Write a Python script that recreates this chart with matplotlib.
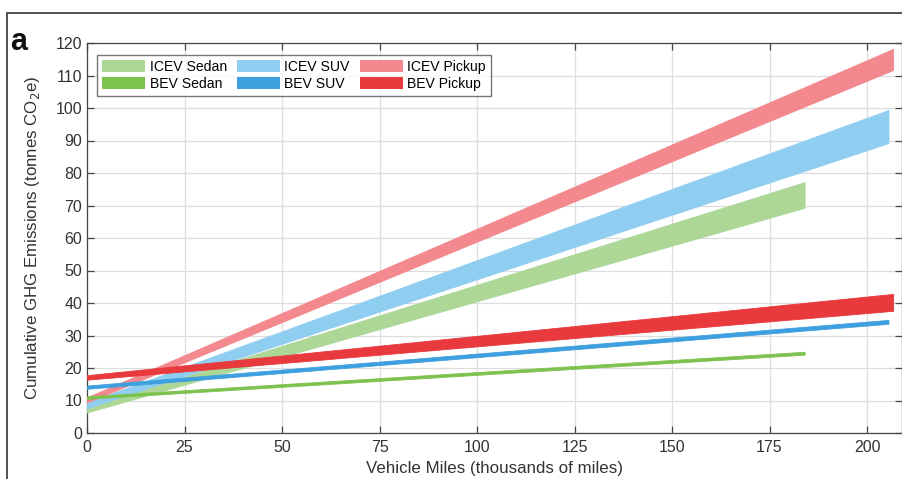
import matplotlib
matplotlib.use("Agg")
import matplotlib.pyplot as plt
from matplotlib.patches import Patch, Rectangle

plt.rcParams['font.family'] = ['Liberation Sans', 'DejaVu Sans']

labels = ["ICEV Sedan", "BEV Sedan", "ICEV SUV", "BEV SUV", "ICEV Pickup", "BEV Pickup"]
x_end = [184, 184, 205.5, 205.5, 206.7, 206.7]
start_low = [6.3, 10.5, 7.6, 13.6, 9.4, 16.4]
start_high = [8.0, 11.3, 9.4, 14.6, 11.0, 17.8]
end_low = [69.3, 24.1, 89.2, 33.6, 111.7, 37.6]
end_high = [77.2, 25.0, 99.4, 34.8, 118.2, 42.8]
colors = ["#acd796", "#7dc24f", "#8fcdf1", "#3e9fdf", "#f3898e", "#e8393d"]

x_ticks = [0, 25, 50, 75, 100, 125, 150, 175, 200]
y_ticks = [0, 10, 20, 30, 40, 50, 60, 70, 80, 90, 100, 110, 120]

fig = plt.figure(figsize=(9.03, 4.79), dpi=100)
W, H = 903, 479
ax = fig.add_axes([87 / W, 1 - 433 / H, (902.5 - 87) / W, (433 - 43) / H])

order = [0, 2, 4, 1, 3, 5]
for i in order:
    ax.fill_between([0, x_end[i]], [start_low[i], end_low[i]], [start_high[i], end_high[i]],
                    color=colors[i], linewidth=0.6, edgecolor=colors[i], zorder=3)

ax.set_xlim(0, 209.1)
ax.set_ylim(0, 120)
ax.set_xticks(x_ticks)
ax.set_yticks(y_ticks)
ax.grid(True, color="#dddddd", linewidth=0.9, zorder=0)
ax.set_axisbelow(True)
ax.tick_params(direction="in", top=True, right=True, length=5, width=0.9,
               colors="#444444", labelsize=11.5, labelcolor="#333333")
ax.tick_params(axis='x', pad=5)
for s in ax.spines.values():
    s.set_color("#444444")
    s.set_linewidth(0.9)

ax.set_xlabel("Vehicle Miles (thousands of miles)", fontsize=12.2, color="#333333", labelpad=4)
ax.set_ylabel("Cumulative GHG Emissions (tonnes CO$_2$e)", fontsize=12.2, color="#333333",
              labelpad=10)

handles = [Patch(facecolor=colors[i], edgecolor='none') for i in range(6)]
leg = ax.legend(handles, labels, ncol=3, loc="upper left", bbox_to_anchor=(0.0123, 0.969),
                fontsize=10.1, frameon=True, fancybox=False, edgecolor="#555555",
                handlelength=3.1, handleheight=0.95, handletextpad=0.3, columnspacing=0.7,
                labelspacing=0.2, borderpad=0.35, borderaxespad=0.0)
leg.get_frame().set_linewidth(1.0)
leg.set_zorder(10)

fig.text(10 / W, 1 - 42 / H, "a", fontsize=22, fontweight="bold", color="#111111", va="center")

fig.add_artist(Rectangle((7 / W, -0.05), 1.1, 1 - 13 / H + 0.05, transform=fig.transFigure,
                         fill=False, edgecolor="#333333", linewidth=1.2))

fig.savefig("out.png", dpi=100)
